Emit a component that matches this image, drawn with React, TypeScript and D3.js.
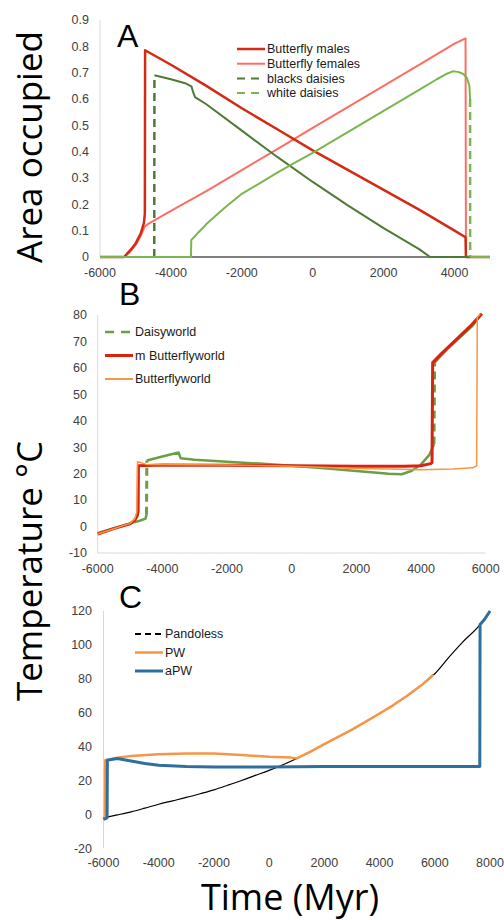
import React from "react";
import * as d3 from "d3";

type Pt = [number, number];

// ---------- Panel A: area occupied ----------
const butterflyMales: Pt[] = [
  [-6000, 0], [-5320, 0], [-5150, 0.025], [-5000, 0.05], [-4850, 0.09], [-4760, 0.13], [-4735, 0.165],
  [-4728, 0.785], [-4000, 0.73], [-3000, 0.65], [-2000, 0.565], [-1000, 0.485], [0, 0.405],
  [1000, 0.33], [2000, 0.255], [3000, 0.18], [4000, 0.1], [4310, 0.075], [4322, 0], [5000, 0],
];
const butterflyFemales: Pt[] = [
  [-6000, 0], [-5320, 0], [-5150, 0.02], [-5000, 0.045], [-4850, 0.08], [-4740, 0.115],
  [-4650, 0.125], [-4000, 0.175], [-3000, 0.25], [-2000, 0.33], [-1000, 0.41], [0, 0.49],
  [1000, 0.57], [2000, 0.65], [3000, 0.73], [4000, 0.81], [4310, 0.83], [4322, 0], [5000, 0],
];
const blackDaisies: Pt[] = [
  [-6000, 0], [-4470, 0], [-4465, 0.69], [-4000, 0.675], [-3600, 0.66], [-3420, 0.648],
  [-3370, 0.625], [-3320, 0.607], [-3000, 0.58], [-2000, 0.48], [-1000, 0.38], [0, 0.285],
  [1000, 0.195], [2000, 0.11], [3000, 0.03], [3310, 0], [4440, 0],
];
const whiteDaisies: Pt[] = [
  [-6000, 0], [-3435, 0], [-3425, 0.065], [-3350, 0.075], [-3250, 0.09], [-3100, 0.11],
  [-3000, 0.125], [-2500, 0.185], [-2000, 0.24], [-1500, 0.28], [-1000, 0.32], [-500, 0.358],
  [0, 0.395], [1000, 0.475], [2000, 0.555], [3000, 0.635], [3500, 0.675], [3800, 0.697],
  [3950, 0.705], [4100, 0.703], [4250, 0.695], [4350, 0.68], [4420, 0.65], [4438, 0.6],
  [4440, 0], [5000, 0],
];

const aXTicks = [-6000, -4000, -2000, 0, 2000, 4000];
const aYTicks = [0, 0.1, 0.2, 0.3, 0.4, 0.5, 0.6, 0.7, 0.8, 0.9];
const aLegend = ["Butterfly males", "Butterfly females", "blacks daisies", "white daisies"];

// ---------- Panel B: temperature ----------
const daisyworld: Pt[] = [
  [-6000, -2.5], [-5500, -0.6], [-5000, 1.2], [-4700, 2.2], [-4520, 3], [-4490, 4.5],
  [-4480, 25], [-4000, 26.5], [-3500, 28], [-3430, 25.8], [-3000, 25.3], [-2000, 24.5],
  [-1000, 23.8], [0, 23], [1000, 22], [2000, 21], [3000, 20], [3400, 19.8], [3700, 21],
  [4000, 23.5], [4250, 27], [4400, 31], [4420, 62], [4800, 67], [5200, 71.5], [5600, 76], [5880, 80.5],
];
const mButterflyworld: Pt[] = [
  [-6000, -2.8], [-5500, -0.8], [-5000, 1], [-4850, 2.5], [-4780, 4], [-4750, 5.5],
  [-4740, 23], [-4000, 23.3], [-2000, 23.2], [0, 23], [2000, 22.8], [3500, 22.8],
  [4000, 23], [4300, 23.8], [4340, 24.2], [4360, 62], [4600, 65], [4900, 68.5],
  [5200, 72], [5500, 75.5], [5880, 80.5],
];
const butterflyworld: Pt[] = [
  [-6000, -2.8], [-5500, -0.8], [-5000, 1.2], [-4850, 3], [-4790, 5.5], [-4770, 24.5],
  [-4700, 24.3], [-4500, 23.5], [-2000, 23.3], [0, 22.8], [2000, 22], [3000, 21.8],
  [4000, 21.5], [5000, 21.8], [5600, 22.2], [5720, 23], [5740, 79], [5830, 80.5],
];

const bXTicks = [-6000, -4000, -2000, 0, 2000, 4000, 6000];
const bYTicks = [-10, 0, 10, 20, 30, 40, 50, 60, 70, 80];
const bLegend = ["Daisyworld", "m Butterflyworld", "Butterflyworld"];

// ---------- Panel C: temperature ----------
const pandoless: Pt[] = [
  [-6000, -2], [-5500, -0.3], [-5000, 1.5], [-4500, 3.7], [-4000, 6], [-3500, 8],
  [-3000, 10], [-2500, 12.2], [-2000, 14.5], [-1500, 17.2], [-1000, 20], [-500, 23],
  [0, 26], [500, 29.3], [1000, 33], [1500, 37], [2000, 41.5], [2500, 45.7], [3000, 50],
  [3500, 54.7], [4000, 59.5], [4500, 64.5], [5000, 70], [5500, 76], [6000, 83],
  [6500, 92.5], [7000, 101.5], [7640, 112], [8000, 120],
];
const pw: Pt[] = [
  [-6000, -3], [-5950, -2], [-5940, 32], [-5500, 33.5], [-5000, 34.5], [-4000, 35.5],
  [-3000, 36], [-2000, 36], [-1000, 35], [0, 34], [800, 33.5], [1000, 33], [1500, 37],
  [2000, 41.5], [2500, 45.7], [3000, 50], [3500, 54.7], [4000, 59.5], [4500, 64.5],
  [5000, 70], [5500, 76], [5950, 82.5],
];
const apw: Pt[] = [
  [-6000, -3], [-5870, -2], [-5860, 32], [-5500, 33], [-5000, 31.5], [-4500, 30],
  [-4000, 29], [-3000, 28.3], [-2000, 28], [0, 28], [2000, 28.2], [4000, 28.2],
  [6000, 28.2], [7630, 28.2], [7640, 112], [7800, 115], [8000, 120],
];

const cXTicks = [-6000, -4000, -2000, 0, 2000, 4000, 6000, 8000];
const cYTicks = [-20, 0, 20, 40, 60, 80, 100, 120];
const cLegend = ["Pandoless", "PW", "aPW"];

const TICK_FONT = "'Liberation Sans', Arial, sans-serif";
const TITLE_FONT = "'Open Sans', 'DejaVu Sans', sans-serif";

type Series = {
  data: Pt[];
  color: string;
  width: number;
  dashedJumps?: boolean;
  legendDash?: string;
  smooth?: boolean;
};

function SeriesPath({ s, x, y }: { s: Series; x: any; y: any }) {
  const line = d3.line<Pt>().x((d) => x(d[0])).y((d) => y(d[1]));
  if (s.smooth) line.curve(d3.curveMonotoneX);
  if (!s.dashedJumps) {
    return <path d={line(s.data) || ""} fill="none" stroke={s.color} strokeWidth={s.width} strokeLinejoin="round" />;
  }
  const solidRuns: Pt[][] = [];
  const jumps: Pt[][] = [];
  let cur: Pt[] = [s.data[0]];
  for (let i = 1; i < s.data.length; i++) {
    const a = s.data[i - 1];
    const b = s.data[i];
    const dx = Math.abs(x(b[0]) - x(a[0]));
    const dy = Math.abs(y(b[1]) - y(a[1]));
    if (dx < 1.5 && dy > 30) {
      if (cur.length > 1) solidRuns.push(cur);
      jumps.push([a, b]);
      cur = [b];
    } else {
      cur.push(b);
    }
  }
  if (cur.length > 1) solidRuns.push(cur);
  return (
    <g>
      {solidRuns.map((r, i) => (
        <path key={"s" + i} d={line(r) || ""} fill="none" stroke={s.color} strokeWidth={s.width} strokeLinejoin="round" />
      ))}
      {jumps.map((r, i) => (
        <path key={"j" + i} d={line(r) || ""} fill="none" stroke={s.color} strokeWidth={s.width + 0.5} strokeDasharray="8,5" />
      ))}
    </g>
  );
}

function Panel(props: {
  xDomain: [number, number];
  xRange: [number, number];
  yDomain: [number, number];
  yRange: [number, number];
  xTicks: number[];
  yTicks: number[];
  yFmt: (v: number) => string;
  yLabelX: number;
  xLabelY: number;
  series: Series[];
  drawOrder: number[];
  legend: string[];
  legendX: number;
  legendY: number;
  legendStep: number;
  legendFont: number;
  legendLineLen: number;
  xAxisLine?: string;
  letter: string;
  letterX: number;
  letterY: number;
}) {
  const x = d3.scaleLinear().domain(props.xDomain).range(props.xRange);
  const y = d3.scaleLinear().domain(props.yDomain).range(props.yRange);
  const x0 = props.xRange[0];
  return (
    <g>
      <line x1={x0} x2={x0} y1={props.yRange[1]} y2={props.yRange[0]} stroke="#d9d9d9" strokeWidth={1} />
      {props.xAxisLine && (
        <line x1={x0} x2={props.xRange[1]} y1={props.yRange[0]} y2={props.yRange[0]} stroke={props.xAxisLine} strokeWidth={1} />
      )}
      {props.yTicks.map((t) => (
        <text key={"y" + t} x={props.yLabelX} y={y(t)} dy="0.35em" textAnchor="end" fontFamily={TICK_FONT} fontSize={12.5} fill="#404040">
          {props.yFmt(t)}
        </text>
      ))}
      {props.xTicks.map((t) => (
        <text key={"x" + t} x={x(t)} y={props.xLabelY} dy="0.35em" textAnchor="middle" fontFamily={TICK_FONT} fontSize={12.5} fill="#404040">
          {t}
        </text>
      ))}
      {props.drawOrder.map((i) => (
        <SeriesPath key={i} s={props.series[i]} x={x} y={y} />
      ))}
      {props.legend.map((name, i) => {
        const s = props.series[i];
        const ly = props.legendY + i * props.legendStep;
        return (
          <g key={name}>
            <line
              x1={props.legendX}
              x2={props.legendX + props.legendLineLen}
              y1={ly}
              y2={ly}
              stroke={s.color}
              strokeWidth={Math.max(s.width, 2)}
              strokeDasharray={s.legendDash}
            />
            <text x={props.legendX + props.legendLineLen + 2} y={ly} dy="0.35em" fontFamily={TICK_FONT} fontSize={props.legendFont} fill="#1a1a1a">
              {name}
            </text>
          </g>
        );
      })}
      <text x={props.letterX} y={props.letterY} fontFamily={TICK_FONT} fontSize={32} fill="#000">
        {props.letter}
      </text>
    </g>
  );
}

export default function App() {
  const seriesA: Series[] = [
    { data: butterflyMales, color: "#d42a14", width: 2.5 },
    { data: butterflyFemales, color: "#fc6e63", width: 2 },
    { data: blackDaisies, color: "#4f7a35", width: 2, dashedJumps: true, legendDash: "8,6" },
    { data: whiteDaisies, color: "#78b74e", width: 2, dashedJumps: true, legendDash: "8,6" },
  ];
  const seriesB: Series[] = [
    { data: daisyworld, color: "#6a9f46", width: 2.5, dashedJumps: true, legendDash: "9,7" },
    { data: mButterflyworld, color: "#d9230f", width: 3 },
    { data: butterflyworld, color: "#f79646", width: 1.5 },
  ];
  const seriesC: Series[] = [
    { data: pandoless, color: "#000000", width: 1.2, legendDash: "6,4", smooth: true },
    { data: pw, color: "#f79646", width: 2.5 },
    { data: apw, color: "#2f6f9f", width: 3 },
  ];
  return (
    <svg width={504} height={920} style={{ position: "absolute", left: 0, top: 0, background: "#fff" }}>
      <rect x={0} y={0} width={504} height={920} fill="#fff" />
      <Panel
        xDomain={[-6000, 5000]}
        xRange={[100, 490]}
        yDomain={[0, 0.9]}
        yRange={[257, 20]}
        xTicks={aXTicks}
        yTicks={aYTicks}
        yFmt={(v) => (v === 0 ? "0" : v.toFixed(1))}
        yLabelX={89}
        xLabelY={273}
        series={seriesA}
        drawOrder={[1, 0, 2, 3]}
        legend={aLegend}
        legendX={237}
        legendY={49}
        legendStep={14.7}
        legendFont={12.5}
        legendLineLen={28}
        xAxisLine="#000"
        letter="A"
        letterX={117}
        letterY={47}
      />
      <Panel
        xDomain={[-6000, 6000]}
        xRange={[97.7, 485.7]}
        yDomain={[-10, 80]}
        yRange={[553, 315]}
        xTicks={bXTicks}
        yTicks={bYTicks}
        yFmt={(v) => String(v)}
        yLabelX={87}
        xLabelY={569}
        series={seriesB}
        drawOrder={[0, 1, 2]}
        legend={bLegend}
        legendX={105}
        legendY={332}
        legendStep={23.5}
        legendFont={12.5}
        legendLineLen={28}
        xAxisLine="#d9d9d9"
        letter="B"
        letterX={119}
        letterY={305}
      />
      <Panel
        xDomain={[-6000, 8000]}
        xRange={[103.5, 490]}
        yDomain={[-20, 120]}
        yRange={[848.3, 611]}
        xTicks={cXTicks}
        yTicks={cYTicks}
        yFmt={(v) => String(v)}
        yLabelX={92}
        xLabelY={863}
        series={seriesC}
        drawOrder={[0, 1, 2]}
        legend={cLegend}
        legendX={135}
        legendY={634}
        legendStep={18.5}
        legendFont={12.5}
        legendLineLen={28}
        letter="C"
        letterX={119}
        letterY={608}
      />
      <text transform="translate(42,147) rotate(-90)" textAnchor="middle" fontFamily={TITLE_FONT} fontSize={35} fill="#000">
        Area occupied
      </text>
      <text transform="translate(42,571) rotate(-90)" textAnchor="middle" fontFamily={TITLE_FONT} fontSize={35} fill="#000">
        Temperature °C
      </text>
      <text x={290} y={910} textAnchor="middle" fontFamily={TITLE_FONT} fontSize={36} fill="#000">
        Time (Myr)
      </text>
    </svg>
  );
}
